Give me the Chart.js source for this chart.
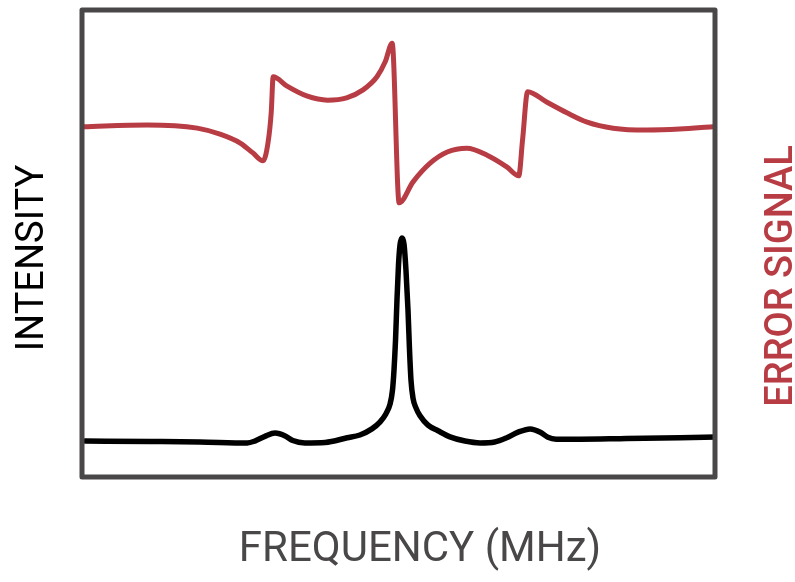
<!DOCTYPE html>
<html>
<head>
<meta charset="utf-8">
<script src="https://cdn.jsdelivr.net/npm/chart.js@4"></script>
<style>
  body { margin: 0; background: #fff; }
  #wrap { width: 795px; height: 582px; }
</style>
</head>
<body>
<div id="wrap"><canvas id="pdhChart" width="795" height="582"></canvas></div>
<script>
// transmitted intensity: carrier at 0, sidebands at about +/-20 MHz
const intensityFreq = [-49.5, -39.3, -31.4, -23.9, -22.7, -21.1, -19.5, -17.9, -16.7, -14.8, -11.6, -8.1, -6.1, -4.2, -2.9, -2.0, -1.34, -0.95, -0.71, -0.47, -0.24, 0, 0.24, 0.55, 0.87, 1.18, 1.5, 1.74, 1.97, 2.29, 2.76, 3.4, 4.66, 6.24, 8.14, 10.5, 12.9, 15.2, 17.1, 18.9, 20.8, 22.4, 23.6, 24.9, 28.7, 35.0, 44.5, 50.3];
const intensityValues = [7.7, 7.6, 7.5, 7.3, 7.7, 8.7, 9.4, 8.8, 7.8, 7.3, 7.4, 8.4, 9.0, 10.3, 11.8, 13.5, 15.6, 18.6, 22.9, 29.3, 37.9, 45.4, 49.7, 51.2, 49.9, 44.3, 35.8, 27.2, 20.8, 16.9, 14.8, 13.1, 11.1, 9.9, 8.6, 7.7, 7.3, 7.5, 8.4, 9.6, 10.3, 9.6, 8.5, 8.1, 8.1, 8.2, 8.4, 8.6];

// error signal (right axis)
const errorFreq = [-49.8, -39.7, -31.8, -28.2, -25.0, -23.0, -21.4, -20.6, -20.1, -19.8, -17.6, -14.5, -11.2, -8.2, -5.6, -3.4, -2.1, -1.0, 0.1, 2.3, 5.0, 7.7, 10.8, 14.0, 17.1, 19.0, 19.6, 20.4, 23.4, 26.6, 29.8, 33.9, 39.2, 44.4, 49.6];
const errorValues = [75.0, 75.4, 74.7, 73.4, 71.5, 69.4, 67.7, 71.7, 78.2, 85.7, 83.7, 81.6, 80.7, 81.2, 82.9, 85.7, 88.9, 92.9, 58.7, 63.2, 67.2, 69.6, 70.4, 68.9, 66.4, 64.5, 72.2, 82.5, 80.3, 78.0, 76.0, 74.7, 74.3, 74.5, 75.0];

const freqRange = [-50, 50];
const axisLabels = { x: 'FREQUENCY (MHz)', y: 'INTENSITY', y2: 'ERROR SIGNAL' };

const frameColor = '#4a4748';
const errorColor = '#b83c44';

const toPoints = (xs, ys) => xs.map((x, i) => ({ x: x, y: ys[i] }));

// box around the plot area plus the three hand-placed axis labels
const framePlugin = {
  id: 'frame',
  afterDatasetsDraw(chart) {
    const { ctx, chartArea: a } = chart;
    ctx.save();
    ctx.strokeStyle = frameColor;
    ctx.lineWidth = 5;
    ctx.lineJoin = 'round';
    ctx.strokeRect(a.left, a.top, a.right - a.left, a.bottom - a.top);
    ctx.restore();
  },
  afterDraw(chart) {
    const ctx = chart.ctx;
    ctx.save();
    ctx.textAlign = 'center';
    ctx.textBaseline = 'alphabetic';

    ctx.fillStyle = frameColor;
    ctx.font = '42px Roboto';
    ctx.fillText(axisLabels.x, 420, 561);

    ctx.save();
    ctx.translate(43, 258);
    ctx.rotate(-Math.PI / 2);
    ctx.fillStyle = '#000';
    ctx.font = '38px Roboto';
    ctx.fillText(axisLabels.y, 0, 0);
    ctx.restore();

    ctx.save();
    ctx.translate(792, 276);
    ctx.rotate(-Math.PI / 2);
    ctx.fillStyle = errorColor;
    ctx.font = '500 38px Roboto';
    ctx.fillText(axisLabels.y2, 0, 0);
    ctx.restore();

    ctx.restore();
  }
};

new Chart(document.getElementById('pdhChart'), {
  type: 'line',
  data: {
    datasets: [
      {
        label: axisLabels.y2,
        data: toPoints(errorFreq, errorValues),
        yAxisID: 'y2',
        borderColor: errorColor,
        borderWidth: 5,
        pointRadius: 0,
        cubicInterpolationMode: 'monotone',
        borderCapStyle: 'round',
        borderJoinStyle: 'round'
      },
      {
        label: axisLabels.y,
        data: toPoints(intensityFreq, intensityValues),
        yAxisID: 'y',
        borderColor: '#000',
        borderWidth: 5.5,
        pointRadius: 0,
        cubicInterpolationMode: 'monotone',
        borderCapStyle: 'round',
        borderJoinStyle: 'round'
      }
    ]
  },
  options: {
    responsive: false,
    animation: false,
    layout: { padding: { left: 82, top: 10, right: 80, bottom: 105 } },
    plugins: { legend: { display: false }, tooltip: { enabled: false } },
    scales: {
      x: { type: 'linear', min: freqRange[0], max: freqRange[1], display: false },
      y: { min: 0, max: 100, display: false },
      y2: { min: 0, max: 100, position: 'right', display: false }
    }
  },
  plugins: [framePlugin]
});
</script>
</body>
</html>
